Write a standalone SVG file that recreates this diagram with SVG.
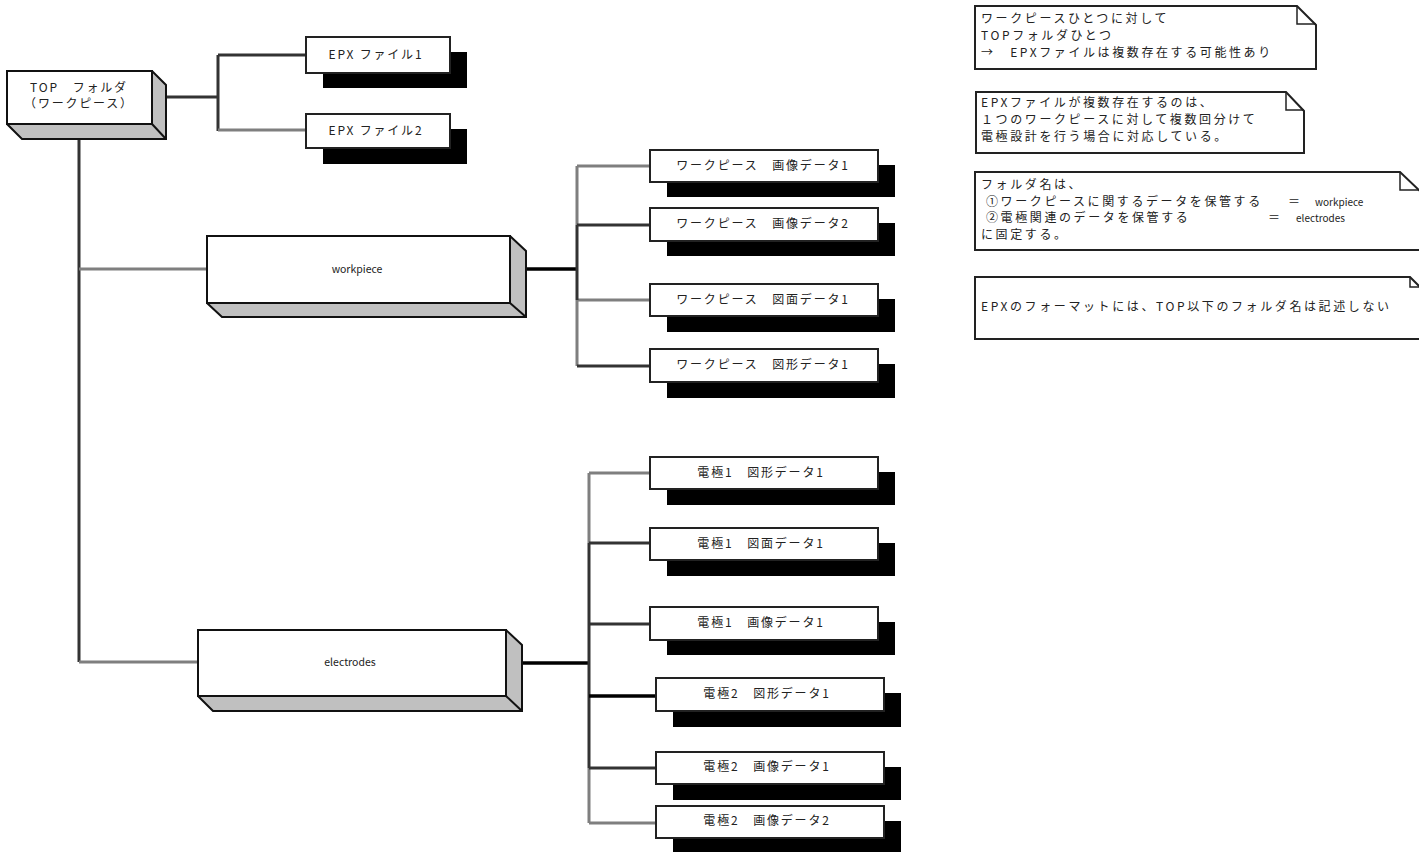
<svg xmlns="http://www.w3.org/2000/svg" width="1419" height="852" viewBox="0 0 1419 852">
<style>
.t{font-family:"Noto Sans CJK JP","Liberation Sans",sans-serif;fill:#222;}
.n{font-size:12px;letter-spacing:1.8px;text-anchor:middle;}
.nt{font-size:12px;letter-spacing:2.6px;}
.side{fill:#c0c0c0;stroke:#111;stroke-width:2;stroke-linejoin:miter;}
.front{fill:#fff;stroke:#111;stroke-width:2;}
.shadow{fill:#000;}
.box{fill:#fff;stroke:#222;stroke-width:2;}
.note{fill:#fff;stroke:#222;stroke-width:2;}
.fold{fill:none;stroke:#222;stroke-width:1.5;}
.cd{stroke:#333;stroke-width:3;fill:none;}
.cg{stroke:#7f7f7f;stroke-width:3;fill:none;}
.cb{stroke:#000;stroke-width:3.5;fill:none;}
</style>
<rect width="1419" height="852" fill="#fff"/>
<g id="connectors">
<path class="cd" d="M152,97 H218 M218,55 V131 M218,55 H306"/>
<path class="cg" d="M218,130 H306"/>
<path class="cd" d="M79,124 V662"/>
<path class="cg" d="M79,269 H207 M79,662 H198"/>
<path class="cb" d="M510,269 H577"/>
<path class="cg" d="M577,166 V225 M577,300 V366 M577,166 H650 M577,300 H650"/>
<path class="cd" d="M577,225 V300 M577,225 H650 M577,366 H650"/>
<path class="cb" d="M506,663 H589"/>
<path class="cg" d="M589,473 V543 M589,768 V823 M589,473 H650 M589,823 H656"/>
<path class="cd" d="M589,543 V768 M589,543 H650 M589,624 H650 M589,768 H656"/>
<path class="cb" d="M589,696 H656"/>
</g>
<g id="top-folder">
<polygon class="side" points="7,71 152,71 166,85 166,139 22,139 7,124"/>
<rect class="front" x="7" y="71" width="145" height="53"/>
<line x1="152" y1="124" x2="166" y2="139" stroke="#111" stroke-width="2"/>
<text class="t n" x="79" y="92">TOP　フォルダ</text>
<text class="t n" x="79" y="108">（ワークピース）</text>
</g>
<g id="epx1"><rect class="shadow" x="323" y="52" width="144" height="36"/><rect class="box" x="306" y="37" width="144" height="36"/><text class="t n" x="376" y="59">EPX ファイル1</text></g>
<g id="epx2"><rect class="shadow" x="323" y="129" width="144" height="35"/><rect class="box" x="306" y="114" width="144" height="34"/><text class="t n" x="376" y="135">EPX ファイル2</text></g>
<g id="workpiece">
<polygon class="side" points="207,236 510,236 526,251 526,317 222,317 207,303"/>
<rect class="front" x="207" y="236" width="303" height="67"/>
<line x1="510" y1="303" x2="526" y2="317" stroke="#111" stroke-width="2"/>
<text class="t" x="357" y="273" font-size="10.5" text-anchor="middle">workpiece</text>
</g>
<g id="electrodes">
<polygon class="side" points="198,630 506,630 522,645 522,711 213,711 198,696"/>
<rect class="front" x="198" y="630" width="308" height="66"/>
<line x1="506" y1="696" x2="522" y2="711" stroke="#111" stroke-width="2"/>
<text class="t" x="350" y="666" font-size="10.5" text-anchor="middle">electrodes</text>
</g>
<g id="wp1"><rect class="shadow" x="667" y="165" width="228" height="32"/><rect class="box" x="650" y="150" width="228" height="32"/><text class="t n" x="763" y="170">ワークピース　画像データ1</text></g>
<g id="wp2"><rect class="shadow" x="667" y="223" width="228" height="33"/><rect class="box" x="650" y="208" width="228" height="33"/><text class="t n" x="763" y="228">ワークピース　画像データ2</text></g>
<g id="wp3"><rect class="shadow" x="667" y="299" width="228" height="33"/><rect class="box" x="650" y="284" width="228" height="32"/><text class="t n" x="763" y="304">ワークピース　図面データ1</text></g>
<g id="wp4"><rect class="shadow" x="667" y="364" width="228" height="34"/><rect class="box" x="650" y="349" width="228" height="33"/><text class="t n" x="763" y="369">ワークピース　図形データ1</text></g>
<g id="e1"><rect class="shadow" x="667" y="472" width="228" height="33"/><rect class="box" x="650" y="457" width="228" height="32"/><text class="t n" x="761" y="477">電極1　図形データ1</text></g>
<g id="e2"><rect class="shadow" x="667" y="543" width="228" height="33"/><rect class="box" x="650" y="528" width="228" height="32"/><text class="t n" x="761" y="548">電極1　図面データ1</text></g>
<g id="e3"><rect class="shadow" x="667" y="622" width="228" height="33"/><rect class="box" x="650" y="607" width="228" height="33"/><text class="t n" x="761" y="627">電極1　画像データ1</text></g>
<g id="e4"><rect class="shadow" x="673" y="693" width="228" height="34"/><rect class="box" x="656" y="678" width="228" height="33"/><text class="t n" x="767" y="698">電極2　図形データ1</text></g>
<g id="e5"><rect class="shadow" x="673" y="767" width="228" height="33"/><rect class="box" x="656" y="752" width="228" height="32"/><text class="t n" x="767" y="771">電極2　画像データ1</text></g>
<g id="e6"><rect class="shadow" x="673" y="821" width="228" height="33"/><rect class="box" x="656" y="806" width="228" height="32"/><text class="t n" x="767" y="825">電極2　画像データ2</text></g>
<g id="note1">
<path class="note" d="M975,6 H1297 L1316,25 V69 H975 Z"/>
<path class="fold" d="M1297,6 V24 H1316"/>
<text class="t nt" x="981" y="23">ワークピースひとつに対して</text>
<text class="t nt" x="981" y="40">TOPフォルダひとつ</text>
<text class="t nt" x="981" y="57">→　EPXファイルは複数存在する可能性あり</text>
</g>
<g id="note2">
<path class="note" d="M976,92 H1286 L1304,111 V153 H976 Z"/>
<path class="fold" d="M1286,92 V110 H1304"/>
<text class="t nt" x="981" y="107">EPXファイルが複数存在するのは、</text>
<text class="t nt" x="981" y="124">１つのワークピースに対して複数回分けて</text>
<text class="t nt" x="981" y="141">電極設計を行う場合に対応している。</text>
</g>
<g id="note3">
<path class="note" d="M975,172 H1400 L1420,191 V250 H975 Z"/>
<path class="fold" d="M1400,172 V190 H1420"/>
<text class="t nt" x="981" y="189">フォルダ名は、</text>
<text class="t nt" x="986" y="206">①ワークピースに関するデータを保管する</text>
<text class="t nt" x="1288" y="206">＝</text>
<text class="t" x="1315" y="206" font-size="10">workpiece</text>
<text class="t nt" x="986" y="222">②電極関連のデータを保管する</text>
<text class="t nt" x="1268" y="222">＝</text>
<text class="t" x="1296" y="222" font-size="10">electrodes</text>
<text class="t nt" x="981" y="239">に固定する。</text>
</g>
<g id="note4">
<path class="note" d="M975,277 H1410 L1420,287 V339 H975 Z"/>
<path class="fold" d="M1410,277 V287 H1420"/>
<text class="t nt" x="981" y="311">EPXのフォーマットには、TOP以下のフォルダ名は記述しない</text>
</g>
</svg>
